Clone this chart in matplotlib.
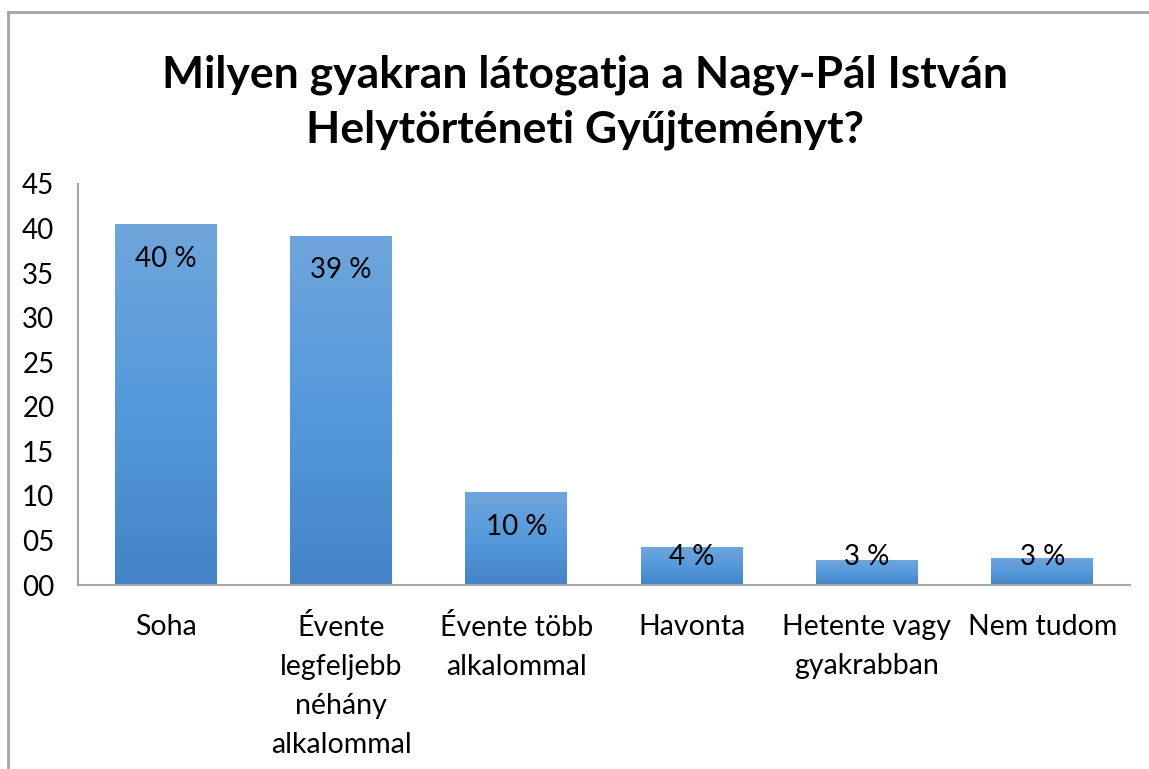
import numpy as np
import matplotlib.pyplot as plt
from matplotlib.ticker import FormatStrFormatter
from matplotlib.colors import LinearSegmentedColormap
from matplotlib.lines import Line2D

plt.rcParams['font.family'] = ['Lato', 'DejaVu Sans']

title = 'Milyen gyakran látogatja a Nagy-Pál István\nHelytörténeti Gyűjteményt?'
categories = ['Soha', 'Évente\nlegfeljebb\nnéhány\nalkalommal', 'Évente több\nalkalommal',
              'Havonta', 'Hetente vagy\ngyakrabban', 'Nem tudom']
values = [40.5, 39.2, 10.4, 4.3, 2.8, 3.0]
labels = ['40 %', '39 %', '10 %', '4 %', '3 %', '3 %']
yticks = [0, 5, 10, 15, 20, 25, 30, 35, 40, 45]

W, H = 1149, 769
fig = plt.figure(figsize=(W / 100, H / 100), dpi=100)
ax = fig.add_axes([78 / W, 1 - 585 / H, (1130 - 78) / W, (585 - 184) / H])

x = np.arange(len(categories))
bars = ax.bar(x, values, width=0.58, color='none', edgecolor='none')

# vertical gradient in each bar, lighter at the top
cmap = LinearSegmentedColormap.from_list('excel', ['#4384c6', '#5599dc', '#6fa6db'])
grad = np.linspace(0, 1, 256).reshape(-1, 1)
for b in bars:
    x0, y0, w, h = b.get_x(), b.get_y(), b.get_width(), b.get_height()
    im = ax.imshow(grad, cmap=cmap, origin='lower', aspect='auto',
                   extent=[x0, x0 + w, y0, y0 + h], zorder=2)
    im.set_clip_path(b)

for xi, v, lab in zip(x, values, labels):
    ax.text(xi, max(v - 3.9, 3.1), lab, ha='center', va='center', fontsize=20,
            color='black', zorder=3)

ax.set_xlim(-0.5, len(categories) - 0.5)
ax.set_ylim(0, 45)
ax.set_yticks(yticks)
ax.yaxis.set_major_formatter(FormatStrFormatter('%02d'))
ax.set_xticks(x)
ax.set_xticklabels(categories, fontsize=20.5, linespacing=1.62, va='top')
ax.tick_params(axis='y', length=0, pad=17, labelsize=20)
ax.tick_params(axis='x', length=0, pad=21)

for s in ['top', 'right']:
    ax.spines[s].set_visible(False)
for s in ['left', 'bottom']:
    ax.spines[s].set_color('#a6a6a6')
    ax.spines[s].set_linewidth(1.5)

fig.text(585 / W, 1 - 102 / H, title, ha='center', va='center', fontsize=32,
         fontweight='bold', linespacing=1.45)

# chart area border (top and left only visible)
fig.add_artist(Line2D([8 / W, 1], [1 - 12 / H, 1 - 12 / H], color='#a6a6a6', lw=2))
fig.add_artist(Line2D([8 / W, 8 / W], [0, 1 - 12 / H], color='#a6a6a6', lw=2))

fig.savefig('out.png', dpi=100)
